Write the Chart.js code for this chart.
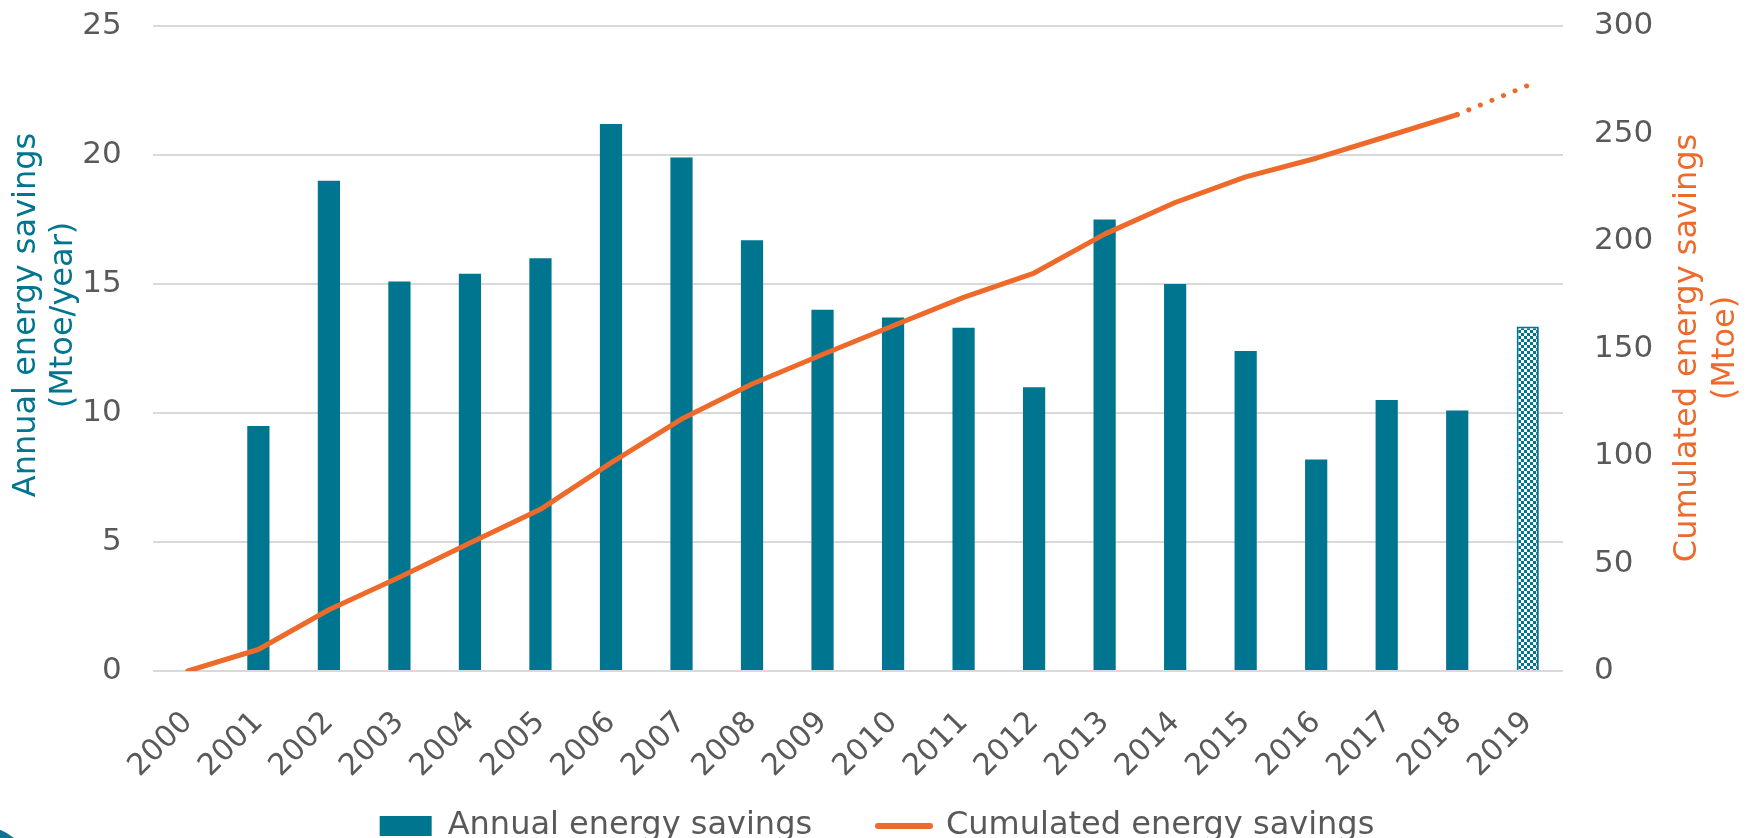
<!DOCTYPE html>
<html>
<head>
<meta charset="utf-8">
<script src="https://cdn.jsdelivr.net/npm/chart.js@4/dist/chart.umd.min.js"></script>
<style>
  html, body { margin: 0; padding: 0; background: #fff; }
</style>
</head>
<body>
<canvas id="chart" width="1754" height="838"></canvas>
<script>
// data
const years = ['2000', '2001', '2002', '2003', '2004', '2005', '2006', '2007', '2008', '2009',
  '2010', '2011', '2012', '2013', '2014', '2015', '2016', '2017', '2018', '2019'];
const annualSavings = [null, 9.5, 19.0, 15.1, 15.4, 16.0, 21.2, 19.9, 16.7, 14.0,
  13.7, 13.3, 11.0, 17.5, 15.0, 12.4, 8.2, 10.5, 10.1, 13.35];
const cumulatedSavings = [0, 10, 28.5, 43.6, 59.5, 75.2, 96.8, 117.2, 133.5, 147.2,
  160.6, 173.8, 185.1, 203.2, 217.9, 229.8, 238.5, 248.6, 258.8, 272.3];
const estimatedYear = '2019';
const leftAxisTicks = [0, 5, 10, 15, 20, 25];
const rightAxisTicks = [0, 50, 100, 150, 200, 250, 300];

const TEAL = '#00758F';
const ORANGE = '#EE6A2B';
const GREY = '#595959';
const FONT = 'DejaVu Sans';

Chart.defaults.font.family = FONT;
Chart.defaults.color = GREY;

// checkered fill for the estimated bar
function checkerPattern(color) {
  const c = document.createElement('canvas');
  c.width = 6; c.height = 6;
  const g = c.getContext('2d');
  g.fillStyle = '#fff';
  g.fillRect(0, 0, 6, 6);
  g.fillStyle = color;
  g.fillRect(0, 0, 3, 3);
  g.fillRect(3, 3, 3, 3);
  return g.createPattern(c, 'repeat');
}

const estIdx = years.indexOf(estimatedYear);
const barFill = years.map((y, i) => i === estIdx ? checkerPattern(TEAL) : TEAL);
const barBorder = years.map((y, i) => i === estIdx ? 2 : 0);

// keeps tick padding from pushing the plot area around
const noScalePadding = s => {
  s.paddingTop = 0; s.paddingBottom = 0;
  s.paddingLeft = 0; s.paddingRight = 0;
};

const axisTitles = {
  id: 'axisTitles',
  afterDraw(chart) {
    const ctx = chart.ctx;
    const drawLines = (lines, x, y, gap, color) => {
      ctx.save();
      ctx.translate(x, y);
      ctx.rotate(-Math.PI / 2);
      ctx.font = '32px "' + FONT + '"';
      ctx.textAlign = 'center';
      ctx.textBaseline = 'middle';
      ctx.fillStyle = color;
      lines.forEach((t, i) => ctx.fillText(t, 0, i * gap));
      ctx.restore();
    };
    drawLines(['Annual energy savings', '(Mtoe/year)'], 27, 315, 37, TEAL);
    drawLines(['Cumulated energy savings', '(Mtoe)'], 1688, 348, 38, ORANGE);

    // corner of the logo peeking in at bottom left
    ctx.save();
    ctx.fillStyle = '#0E7490';
    ctx.beginPath();
    ctx.arc(-20, 880, 54, 0, Math.PI * 2);
    ctx.fill();
    ctx.restore();
  }
};

new Chart(document.getElementById('chart'), {
  type: 'bar',
  data: {
    labels: years,
    datasets: [{
      label: 'Annual energy savings',
      data: annualSavings,
      backgroundColor: barFill,
      borderColor: TEAL,
      borderWidth: barBorder,
      barPercentage: 0.315,
      categoryPercentage: 1,
      pointStyle: 'rect',
      yAxisID: 'y',
      order: 1
    }, {
      type: 'line',
      label: 'Cumulated energy savings',
      data: cumulatedSavings,
      borderColor: ORANGE,
      backgroundColor: ORANGE,
      borderWidth: 5,
      borderCapStyle: 'round',
      borderJoinStyle: 'round',
      pointRadius: 0,
      pointHoverRadius: 0,
      pointStyle: 'line',
      pointBorderColor: ORANGE,
      pointBorderWidth: 6,
      tension: 0,
      yAxisID: 'y1',
      order: 0,
      segment: {
        borderDash: c => c.p1DataIndex === estIdx ? [0.01, 12.5] : undefined
      }
    }]
  },
  options: {
    responsive: false,
    animation: false,
    layout: { padding: { top: 26, right: 0, bottom: -14, left: 0 } },
    plugins: {
      tooltip: { enabled: false },
      legend: {
        position: 'bottom',
        labels: {
          usePointStyle: true,
          pointStyleWidth: 52,
          boxHeight: 20,
          padding: 15,
          color: GREY,
          font: { family: FONT, size: 32 },
          sort: (a, b) => a.datasetIndex - b.datasetIndex,
          generateLabels: chart => {
            const items = Chart.defaults.plugins.legend.labels.generateLabels(chart);
            items.forEach(it => {
              if (it.pointStyle === 'line') {
                it.lineCap = 'round';
                it.lineWidth = 6;
                it.strokeStyle = ORANGE;
              } else {
                // wider gap before the next entry
                it.text = it.text + '\u00a0\u00a0\u00a0\u00a0\u00a0';
                it.fillStyle = TEAL;
                it.lineWidth = 0;
              }
            });
            return items;
          }
        }
      }
    },
    scales: {
      x: {
        grid: { display: false },
        border: { display: false },
        ticks: {
          minRotation: 45,
          maxRotation: 45,
          padding: 26,
          color: GREY,
          font: { size: 30 }
        },
        afterFit: s => { s.height = 124; noScalePadding(s); }
      },
      y: {
        position: 'left',
        min: leftAxisTicks[0],
        max: leftAxisTicks[leftAxisTicks.length - 1],
        afterBuildTicks: s => { s.ticks = leftAxisTicks.map(v => ({ value: v })); },
        grid: { color: '#D9D9D9', lineWidth: 2, drawTicks: false },
        border: { display: false },
        ticks: { padding: 31, color: GREY, font: { size: 31 } },
        afterFit: s => { s.width = 152.6; noScalePadding(s); }
      },
      y1: {
        position: 'right',
        min: rightAxisTicks[0],
        max: rightAxisTicks[rightAxisTicks.length - 1],
        afterBuildTicks: s => { s.ticks = rightAxisTicks.map(v => ({ value: v })); },
        grid: { display: false, drawTicks: false },
        border: { display: false },
        ticks: { padding: 31, color: GREY, font: { size: 31 } },
        afterFit: s => { s.width = 191; noScalePadding(s); }
      }
    }
  },
  plugins: [axisTitles]
});
</script>
</body>
</html>
